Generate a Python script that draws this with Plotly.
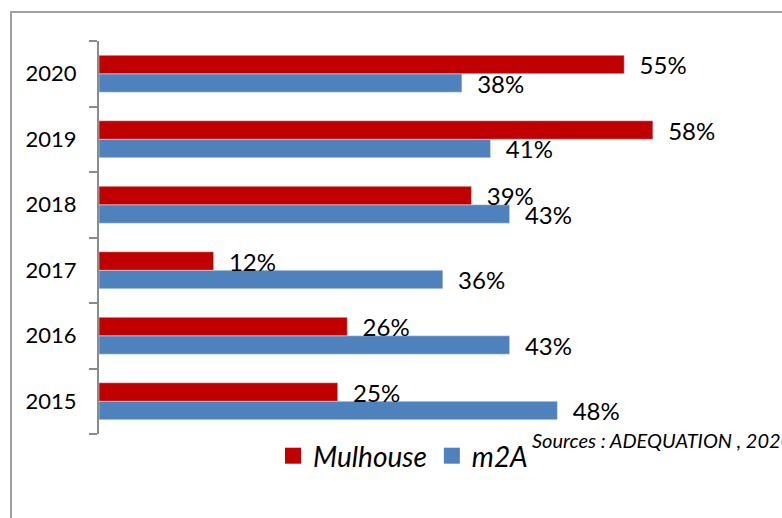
import plotly.graph_objects as go

years = ["2015", "2016", "2017", "2018", "2019", "2020"]
mulhouse = [25, 26, 12, 39, 58, 55]
m2a = [48, 43, 36, 43, 41, 38]
series_names = ["Mulhouse", "m2A"]
source_text = "Sources : ADEQUATION , 2020"

RED = "#C00000"
BLUE = "#4F81BD"
FONT = "Lato, 'Open Sans', sans-serif"

W, H = 782, 518
ML, MR, MT, MB = 99, 12, 41, 84
PW = W - ML - MR
PH = H - MT - MB
PX_PER_UNIT = 9.55
xmax = PW / PX_PER_UNIT

def px_to_paper_x(px):
    return (px - ML) / PW

def px_to_paper_y(py):
    return (H - MB - py) / PH

label_font = dict(size=24, color="#000000", family=FONT)

fig = go.Figure()
fig.add_trace(go.Bar(
    y=years, x=m2a, name=series_names[1], orientation="h",
    marker=dict(color=BLUE), showlegend=False,
    texttemplate="\u00a0\u00a0%{x}%", textposition="outside",
    textfont=label_font, constraintext="none", cliponaxis=False,
))
fig.add_trace(go.Bar(
    y=years, x=mulhouse, name=series_names[0], orientation="h",
    marker=dict(color=RED), showlegend=False,
    texttemplate="\u00a0\u00a0%{x}%", textposition="outside",
    textfont=label_font, constraintext="none", cliponaxis=False,
))
# legend entries with larger square swatches
for name, color in zip(series_names, [RED, BLUE]):
    fig.add_trace(go.Scatter(
        x=[None], y=[None], mode="markers", name=name,
        marker=dict(symbol="square", size=16, color=color),
        showlegend=True,
    ))

fig.update_layout(
    width=W, height=H,
    margin=dict(l=ML, r=MR, t=MT, b=MB, pad=0),
    paper_bgcolor="white", plot_bgcolor="white",
    barmode="group", bargap=0.435, bargroupgap=0,
    legend=dict(
        orientation="h", traceorder="normal",
        x=px_to_paper_x(403), xanchor="center",
        y=px_to_paper_y(456), yanchor="middle",
        font=dict(size=28, family=FONT, style="italic", color="#000000"),
        bgcolor="rgba(0,0,0,0)", itemsizing="trace", itemwidth=30,
        tracegroupgap=0,
    ),
    xaxis=dict(visible=False, range=[0, xmax], fixedrange=True),
    yaxis=dict(
        type="category", categoryorder="array", categoryarray=years,
        showline=True, linecolor="#8c8c8c", linewidth=2,
        ticks="outside", ticklen=8, tickcolor="#8c8c8c", tickwidth=2,
        tickson="boundaries", showgrid=False, zeroline=False,
        tickfont=dict(size=22, family=FONT, color="#000000"),
        ticklabelstandoff=16,
    ),
    font=dict(family=FONT, color="#000000"),
    shapes=[dict(
        type="rect", xref="paper", yref="paper",
        x0=px_to_paper_x(11), x1=px_to_paper_x(W + 40),
        y0=px_to_paper_y(H + 40), y1=px_to_paper_y(12),
        line=dict(color="#a0a0a0", width=2), fillcolor="rgba(0,0,0,0)",
        layer="below",
    )],
    annotations=[dict(
        text=source_text, xref="paper", yref="paper",
        x=px_to_paper_x(530), xanchor="left",
        y=px_to_paper_y(440), yanchor="middle",
        showarrow=False,
        font=dict(size=20, family=FONT, style="italic", color="#000000"),
    )],
)

fig.write_html("out.html")
